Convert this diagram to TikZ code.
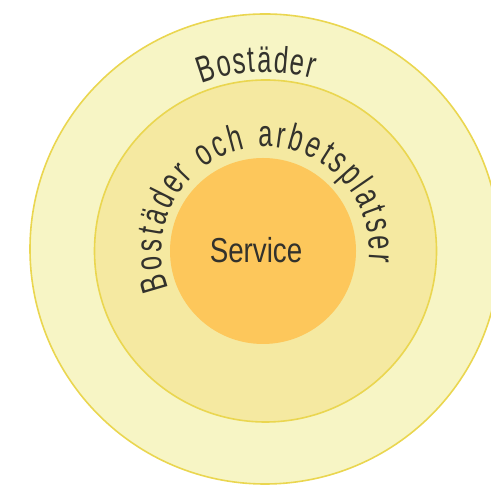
\documentclass[tikz,border=0pt]{standalone}
\usepackage{fontspec}
\setmainfont{Liberation Sans}
\newfontfamily\servicefont[FakeStretch=0.8]{Liberation Sans}
\newfontfamily\ringfont[FakeStretch=0.68]{Liberation Sans}
\usetikzlibrary{decorations.text}

\definecolor{outerfill}{HTML}{F7F5C5}
\definecolor{midfill}{HTML}{F5E9A1}
\definecolor{innerfill}{HTML}{FDC75B}
\definecolor{ringline}{HTML}{EAD650}
\definecolor{textgray}{HTML}{33322C}

\begin{document}
\begin{tikzpicture}[x=0.75pt,y=0.75pt,
	ring/.style={circle,draw=ringline,line width=1.2pt,inner sep=0pt},
	core/.style={circle,fill=innerfill,inner sep=0pt},
	curved/.style={decorate,decoration={text along path,text align=fit to path,text color=textgray,text={#1}}}]
	
	\useasboundingbox (0,0) rectangle (491,484);
	\clip (0,0) rectangle (491,484);
	
	% Cirklar
	\node[ring,fill=outerfill,minimum size=352.5pt] (bostader) at (265,235) {};
	\node[ring,fill=midfill,minimum size=256.5pt] (blandat) at (265.5,233) {};
	\node[core,minimum size=139.5pt] (service) at (263,233) {};
	
	% Texter
	\node[font=\servicefont\fontsize{26}{30}\selectfont,text=textgray] (servicetext) at (256,233.5) {Service};
	
	\path[curved={|\fontsize{28}{32}\ringfont|Bostäder}]
	(bostader.center) ++(111:177) arc[start angle=111,end angle=74.5,radius=177];
	
	\path[curved={|\fontsize{28}{32}\ringfont|Bostäder och arbetsplatser}]
	(blandat.center) ++(201:104) arc[start angle=201,end angle=-6,radius=104];
	
\end{tikzpicture}
\end{document}
